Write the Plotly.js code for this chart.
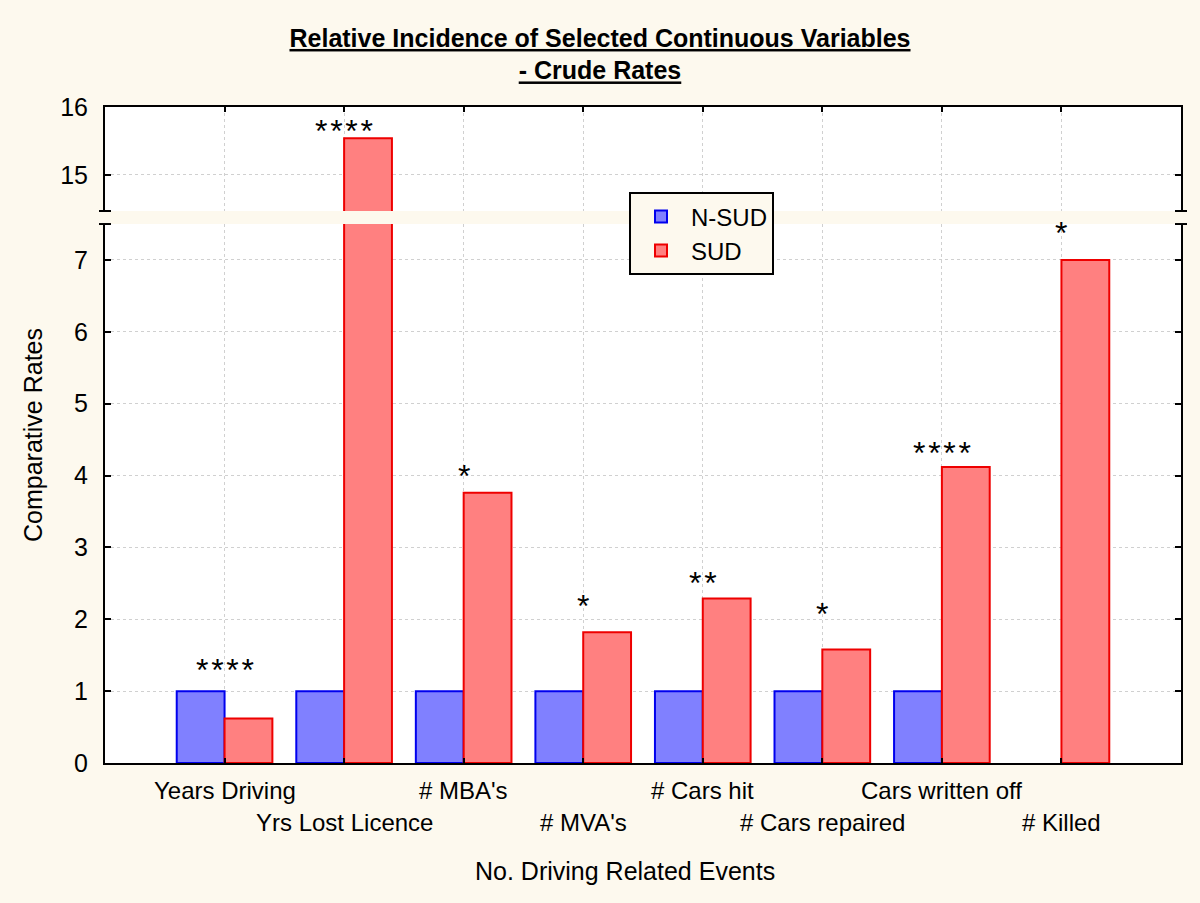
<!DOCTYPE html>
<html>
<head>
<meta charset="utf-8">
<script src="https://cdn.plot.ly/plotly-3.0.1.min.js"></script>
<style>html,body{margin:0;padding:0;background:#fdf9ee;}</style>
</head>
<body>
<div id="chart" style="width:1200px;height:903px;"></div>
<script>
const categories = ['Years Driving', 'Yrs Lost Licence', "# MBA's", "# MVA's", '# Cars hit', '# Cars repaired', 'Cars written off', '# Killed'];
const nsud = [1, 1, 1, 1, 1, 1, 1, null];
const sud = [0.62, 15.54, 3.76, 1.82, 2.29, 1.58, 4.12, 7.0];
const stars = ['****', '****', '*', '*', '**', '*', '****', '*'];
const starY = [1.41, 15.76, 4.1, 2.3, 2.62, 2.18, 4.43, 7.49];
const lowerTicks = [0, 1, 2, 3, 4, 5, 6, 7];
const upperTicks = [15, 16];

const pos = categories.map((c, i) => i + 1);
const FONT = 'Liberation Sans, Arial, sans-serif';
const BG = '#fdf9ee';
const blueFill = '#8080ff', blueLine = '#0000ee';
const redFill = '#ff8080', redLine = '#ee0000';

function barTrace(name, vals, fill, line, xa, ya, show) {
  return {type: 'bar', name: name, x: pos, y: vals, xaxis: xa, yaxis: ya,
    marker: {color: fill, line: {color: line, width: 2}},
    showlegend: show, legendgroup: name, hoverinfo: 'x+y', cliponaxis: true};
}

const data = [
  barTrace('N-SUD', nsud, blueFill, blueLine, 'x', 'y', true),
  barTrace('SUD', sud, redFill, redLine, 'x', 'y', true),
  barTrace('N-SUD', nsud, blueFill, blueLine, 'x2', 'y2', false),
  barTrace('SUD', sud, redFill, redLine, 'x2', 'y2', false)
];

const yBreakLow = 0.8216, yBreakHigh = 0.8415;

const annotations = [];
categories.forEach((c, i) => {
  annotations.push({xref: 'x', yref: 'paper', x: pos[i], y: 0, yanchor: 'middle', xanchor: 'center',
    yshift: i % 2 === 0 ? -27 : -59, text: c, showarrow: false,
    font: {family: FONT, size: 24, color: '#000'}});
  const upper = starY[i] > 7.5;
  annotations.push({xref: 'x', yref: upper ? 'y2' : 'y', x: pos[i], y: starY[i], yanchor: 'middle', xanchor: 'center',
    yshift: -8, text: stars[i].split('').join('\u200a'), showarrow: false, font: {family: FONT, size: 32, color: '#000'}});
});
annotations.push({xref: 'paper', yref: 'paper', x: 0.483, y: 0, yanchor: 'middle', yshift: -108,
  text: 'No. Driving Related Events', showarrow: false, font: {family: FONT, size: 25, color: '#000'}});
annotations.push({xref: 'paper', yref: 'paper', x: 0, y: 0.5, xanchor: 'center', xshift: -72, textangle: -90,
  text: 'Comparative Rates', showarrow: false, font: {family: FONT, size: 25, color: '#000'}});

function cap(xp, yp) {
  return {type: 'line', xref: 'paper', yref: 'paper', xsizemode: 'pixel', xanchor: xp,
    x0: -6, x1: 6, y0: yp, y1: yp, line: {color: '#000', width: 2}};
}
const shapes = [cap(0, yBreakLow), cap(0, yBreakHigh), cap(1, yBreakLow), cap(1, yBreakHigh)];

const gridStyle = {showgrid: true, gridcolor: '#d0d0d0', griddash: 'dot', gridwidth: 1};

const layout = {
  width: 1200, height: 903,
  paper_bgcolor: BG, plot_bgcolor: '#ffffff',
  margin: {l: 105, r: 19, t: 107, b: 140},
  barmode: 'group', bargap: 0.2, bargroupgap: 0,
  font: {family: FONT, color: '#000'},
  title: {
    text: '<b><span style="text-decoration:underline">Relative Incidence of Selected Continuous Variables</span></b><br><b><span style="text-decoration:underline">- Crude Rates</span></b>',
    font: {family: 'Liberation Sans Narrow, Arial Narrow, Liberation Sans, sans-serif', size: 25, color: '#000'},
    x: 0.5, xanchor: 'center', y: 0.948, yanchor: 'top'
  },
  xaxis: Object.assign({domain: [0, 1], range: [0, 9], anchor: 'y', tickvals: pos, ticktext: pos.map(() => ''),
    ticks: 'inside', ticklen: 5, tickwidth: 2, tickcolor: '#000',
    showline: true, linecolor: '#000', linewidth: 2, zeroline: false, fixedrange: true}, gridStyle),
  xaxis2: Object.assign({domain: [0, 1], range: [0, 9], anchor: 'y2', matches: 'x', side: 'top', tickvals: pos,
    showticklabels: false, ticks: 'inside', ticklen: 5, tickwidth: 2, tickcolor: '#000',
    showline: true, linecolor: '#000', linewidth: 2, zeroline: false}, gridStyle),
  yaxis: Object.assign({domain: [0, yBreakLow], range: [0, 7.5], anchor: 'x', tickvals: lowerTicks,
    ticks: 'inside', ticklen: 6, tickwidth: 2, tickcolor: '#000', mirror: 'ticks',
    showline: true, linecolor: '#000', linewidth: 2, zeroline: false, ticklabelstandoff: 10,
    tickfont: {family: FONT, size: 25, color: '#000'}}, gridStyle),
  yaxis2: Object.assign({domain: [yBreakHigh, 1], range: [14.47, 16], anchor: 'x2', tickvals: upperTicks,
    ticks: 'inside', ticklen: 6, tickwidth: 2, tickcolor: '#000', mirror: 'ticks',
    showline: true, linecolor: '#000', linewidth: 2, zeroline: false, ticklabelstandoff: 10,
    tickfont: {family: FONT, size: 25, color: '#000'}}, gridStyle),
  legend: {x: 0.487, y: 0.87, xanchor: 'left', yanchor: 'top', bgcolor: BG, bordercolor: '#000', borderwidth: 2,
    font: {family: FONT, size: 24, color: '#000'}, tracegroupgap: 0, itemwidth: 50},
  annotations: annotations,
  shapes: shapes
};

Plotly.newPlot('chart', data, layout, {displayModeBar: false, staticPlot: true});
</script>
</body>
</html>
